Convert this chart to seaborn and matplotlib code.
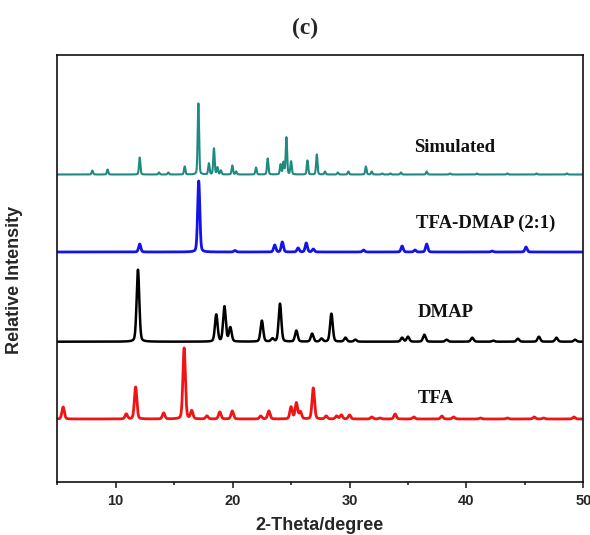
import numpy as np
import pandas as pd
import matplotlib
matplotlib.use("Agg")
import matplotlib.pyplot as plt
import seaborn as sns
from matplotlib.ticker import MultipleLocator

# ---- data (peak position in 2-theta, peak height above baseline) ----
sim_pos = [8.0, 9.3, 12.05, 13.7, 14.5, 15.9, 17.07, 17.97, 18.4, 18.7, 19.0, 19.97, 20.3,
           22.0, 23.0, 24.1, 24.35, 24.6, 25.0, 26.4, 27.2, 27.9, 29.0, 29.9, 31.4, 31.9,
           32.8, 33.5, 34.4, 36.6, 38.6, 40.9, 43.5, 46.0, 48.6]
sim_h = [4, 5, 17, 2, 2, 8, 71, 11, 26, 7, 4, 9, 3,
         7, 16, 10, 12, 37, 13, 14, 20, 3, 2, 3, 8, 3,
         1, 1, 2, 3, 1, 1, 1, 1, 1]

co_pos = [12.05, 17.1, 20.2, 23.6, 24.25, 25.6, 26.3, 26.9, 31.2, 34.5, 35.6, 36.6, 42.2, 45.1]
co_h = [8, 71, 1.5, 7, 10, 4, 9, 3, 2, 6, 2, 8, 1, 5]

dmap_pos = [11.9, 18.6, 19.3, 19.8, 22.5, 23.4, 24.05, 25.45, 26.8, 27.6, 28.45, 29.65, 30.5,
            34.5, 35.0, 36.4, 38.3, 40.5, 42.3, 44.4, 46.2, 47.7, 49.3]
dmap_h = [72, 27, 35, 14, 21, 3, 38, 11, 8, 3, 28, 4, 2,
          4, 5, 7, 2, 4, 1, 3, 5, 4, 2]

tfa_pos = [5.5, 10.9, 11.7, 14.1, 15.85, 16.5, 17.8, 18.9, 19.97, 22.4, 23.1, 25.0, 25.45,
           25.8, 26.9, 28.0, 28.9, 29.3, 30.0, 31.9, 32.6, 33.9, 35.5, 37.9, 38.9, 41.2,
           43.5, 45.8, 46.6, 49.2]
tfa_h = [12, 5, 32, 6, 71, 8, 3, 7, 8, 3, 8, 12, 16,
         7, 31, 3, 3, 4, 4, 2, 1, 5, 2, 3, 2, 1,
         1, 2, 1, 2]

series_names = ["Simulated", "TFA-DMAP (2:1)", "DMAP", "TFA"]
series_pos = [sim_pos, co_pos, dmap_pos, tfa_pos]
series_h = [sim_h, co_h, dmap_h, tfa_h]
offsets = [307.5, 230, 140.3, 63]          # vertical stacking of the patterns
fwhm = [0.14, 0.22, 0.27, 0.25]
colors = ["#1f8a80", "#1414e6", "#000000", "#f01414"]
widths = [1.5, 2.0, 1.8, 2.0]
label_x = [35.5, 35.65, 35.8, 35.85]
label_y = [329.7, 253.7, 165.3, 79.3]

xticks = [10, 20, 30, 40, 50]

# ---- build the patterns from the peak lists ----
two_theta = np.linspace(5, 50, 4501)
frames = []
for name, pos, h, off, w in zip(series_names, series_pos, series_h, offsets, fwhm):
    y = np.full_like(two_theta, off)
    s = w / 2.3548
    g = w / 2
    for p, hh in zip(pos, h):
        gauss = np.exp(-0.5 * ((two_theta - p) / s) ** 2)
        lor = 1 / (1 + ((two_theta - p) / g) ** 2)
        y += hh * (0.75 * gauss + 0.25 * lor)
    frames.append(pd.DataFrame({"two_theta": two_theta, "intensity": y, "sample": name}))
df = pd.concat(frames, ignore_index=True)

# ---- plot ----
sns.set_style("white")
fig = plt.figure(figsize=(5.9, 5.35), dpi=100)
ax = fig.add_axes([57.3 / 590, 1 - 482 / 535, (583.3 - 57.3) / 590, (482 - 55) / 535])

sns.lineplot(data=df, x="two_theta", y="intensity", hue="sample", palette=dict(zip(series_names, colors)),
             hue_order=series_names, estimator=None, sort=False, legend=False, ax=ax)
for line, lw in zip(ax.get_lines(), widths):
    line.set_linewidth(lw)

ax.set_xlim(5, 50)
ax.set_ylim(0, 427)
ax.set_yticks([])
ax.xaxis.set_major_locator(MultipleLocator(10))
ax.xaxis.set_minor_locator(MultipleLocator(5))
ax.set_xticks(xticks)
ax.set_xticklabels([str(t) for t in xticks], fontfamily="Liberation Sans", fontweight="bold", fontsize=10.5)
ax.tick_params(axis="x", which="major", direction="out", length=4.5, width=1.2, pad=4, bottom=True)
ax.tick_params(axis="x", which="minor", direction="out", length=2.5, width=1.2, bottom=True)
for sp in ax.spines.values():
    sp.set_linewidth(1.2)
    sp.set_color("#111111")

ax.set_xlabel("")
ax.set_ylabel("")
for name, lx, ly in zip(series_names, label_x, label_y):
    ax.text(lx, ly, name, fontfamily="Liberation Serif", fontweight="bold", fontsize=13.5,
            ha="left", va="baseline", color="#111111")

fig.text(319.5 / 590, 1 - 525 / 535, "2-Theta/degree", ha="center", va="center",
         fontfamily="Liberation Sans", fontweight="bold", fontsize=13)
fig.text(15 / 590, 1 - 280 / 535, "Relative Intensity", ha="center", va="center", rotation=90,
         fontfamily="Liberation Sans", fontweight="bold", fontsize=13)
fig.text(305 / 590, 1 - 28.5 / 535, "(c)", ha="center", va="center",
         fontfamily="Liberation Serif", fontweight="bold", fontsize=17)

fig.savefig("out.png", dpi=100, facecolor="white")
